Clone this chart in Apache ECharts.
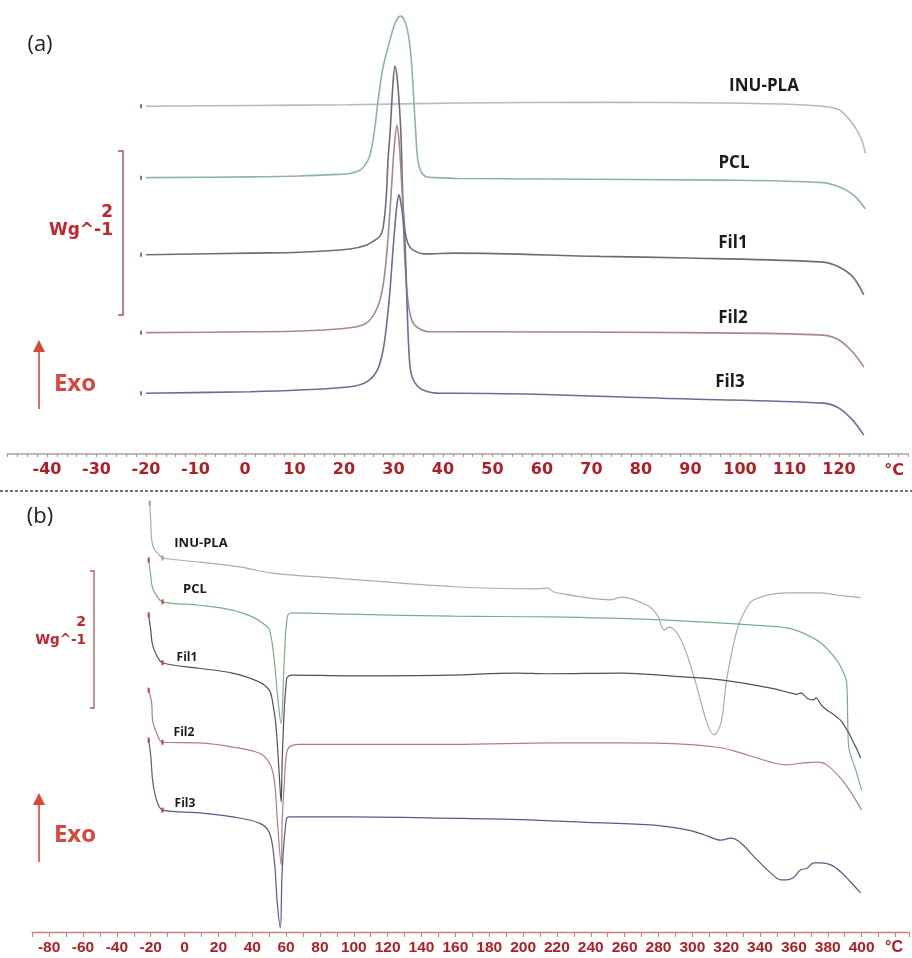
<!DOCTYPE html>
<html><head><meta charset="utf-8">
<script src="https://cdn.jsdelivr.net/npm/echarts@6/dist/echarts.min.js"></script>
<style>html,body{margin:0;padding:0;background:#fff}#c{width:912px;height:958px}</style>
</head><body><div id="c"></div>
<script>
// ---- tick labels ----
const tickLabelsA = [-40,-30,-20,-10,0,10,20,30,40,50,60,70,80,90,100,110,120];
const tickLabelsB = [-80,-60,-40,-20,0,20,40,60,80,100,120,140,160,180,200,220,240,260,280,300,320,340,360,380,400];
const seriesNames = ['INU-PLA','PCL','Fil1','Fil2','Fil3'];

// ---- panel (a): [T (°C), heat flow (W/g, offset)] ----
const a_INU = [[-20,4.24],[1,4.25],[21,4.26],[43,4.28],[72,4.29],[97,4.28],[112,4.26],[116.8,4.24],[120,4.20],[122.2,4.07],[123.6,3.95],[124.6,3.83],[125.3,3.67]];
const a_PCL = [[-20,3.37],[1,3.38],[11,3.39],[19,3.41],[21.2,3.42],[23.2,3.46],[24.2,3.52],[25.1,3.62],[25.7,3.77],[26.3,4.01],[26.9,4.32],[27.9,4.72],[29.3,5.05],[30.1,5.22],[30.9,5.32],[31.5,5.34],[32.1,5.30],[32.7,5.20],[33.3,4.99],[33.7,4.72],[34.1,4.32],[34.5,3.91],[34.9,3.59],[35.6,3.44],[36.6,3.38],[38.4,3.37],[43,3.36],[97,3.34],[116.8,3.31],[120,3.26],[122.2,3.19],[123.6,3.12],[125.3,2.99]];
const a_Fil1 = [[-20,2.43],[1,2.45],[11.1,2.46],[21.2,2.50],[24.6,2.55],[26.3,2.61],[27.3,2.66],[27.9,2.76],[28.5,3.10],[28.9,3.59],[29.3,3.91],[29.9,4.52],[30.3,4.73],[30.7,4.61],[31.1,4.32],[31.5,3.91],[31.9,3.10],[32.3,2.73],[32.9,2.57],[33.9,2.49],[36.4,2.44],[42.6,2.45],[71.7,2.41],[89.7,2.39],[116.8,2.34],[120,2.28],[122.8,2.16],[125,1.94]];
const a_Fil2 = [[-20,1.48],[1,1.49],[11.1,1.50],[21.2,1.54],[24.6,1.60],[26.7,1.78],[27.9,2.06],[28.7,2.49],[29.3,2.98],[29.7,3.34],[30.1,3.71],[30.7,4.01],[31.1,3.83],[31.5,3.46],[31.9,2.98],[32.3,2.37],[32.9,1.88],[33.7,1.63],[34.9,1.54],[37.4,1.49],[42.6,1.49],[89.7,1.48],[116.8,1.45],[120,1.39],[122.8,1.24],[125,1.06]];
const a_Fil3 = [[-20,0.74],[1,0.76],[11.1,0.78],[21.2,0.82],[24.6,0.88],[26.7,1.02],[27.9,1.27],[28.7,1.63],[29.3,2.00],[29.9,2.49],[30.3,2.79],[30.7,3.04],[31.1,3.16],[31.5,3.06],[31.9,2.88],[32.3,2.61],[32.7,1.88],[33.1,1.27],[33.5,1.00],[34.3,0.87],[36,0.78],[39.4,0.74],[42.6,0.74],[89.7,0.67],[116.8,0.62],[120,0.56],[122.8,0.41],[125,0.23]];

// ---- panel (b): [T (°C), heat flow (W/g, offset)] ----
const b_INU = [[-20.6,6.26],[-20,6.01],[-19.4,5.72],[-17.7,5.58],[-14.7,5.50],[-13,5.46],[8.8,5.40],[32.4,5.33],[51.8,5.24],[87.2,5.17],[159.6,5.04],[208.5,5.01],[214.4,5.02],[218.6,4.96],[252.1,4.85],[258,4.89],[273.3,4.77],[279.2,4.63],[283.4,4.41],[286.3,4.45],[293.4,4.26],[301,3.72],[308.7,3.05],[312.8,2.88],[316.9,3.05],[320.5,3.72],[326.4,4.41],[330.5,4.66],[336.4,4.85],[355.8,4.95],[375.9,4.95],[385.3,4.92],[399.4,4.88]];
const b_PCL = [[-21.2,5.43],[-20,5.21],[-18.9,5.02],[-16.5,4.91],[-13,4.82],[8.8,4.77],[28.3,4.70],[40.1,4.60],[46,4.51],[50.1,4.41],[53,3.97],[54.8,3.49],[57,3.04],[58.9,3.97],[60.7,4.60],[63,4.66],[97.2,4.64],[159.6,4.61],[215,4.60],[277.5,4.56],[336.4,4.48],[355.8,4.44],[365.8,4.36],[375.9,4.22],[385.3,3.97],[389.4,3.78],[391.2,3.64],[391.8,3.10],[392.4,2.70],[396.5,2.37],[400,2.07]];
const b_Fil1 = [[-21.2,4.63],[-20,4.41],[-18.9,4.19],[-16.5,4.04],[-13,3.93],[8.8,3.85],[28.3,3.78],[44.2,3.65],[50.1,3.53],[51.8,3.39],[53.6,3.10],[54.8,2.76],[56.6,2.03],[57.1,1.90],[57.7,2.51],[58.9,3.24],[60.1,3.64],[60.7,3.72],[63.6,3.75],[97.2,3.74],[156.1,3.75],[195.6,3.78],[215,3.77],[258,3.78],[296.9,3.72],[316.9,3.68],[346.4,3.56],[358,3.49],[362,3.47],[364.1,3.49],[368,3.41],[371.7,3.39],[373,3.42],[376,3.32],[379.4,3.24],[382,3.20],[385.3,3.14],[388,3.08],[390.6,2.98],[393,2.88],[395.3,2.76],[397,2.68],[399.4,2.54]];
const b_Fil2 = [[-21.2,3.53],[-19.4,3.34],[-18.9,3.09],[-16.5,2.91],[-13,2.77],[8.8,2.76],[28.3,2.70],[44.2,2.61],[50.1,2.47],[53,2.22],[54.8,1.64],[57.1,0.98],[57.7,1.64],[58.9,2.15],[60.1,2.58],[61.9,2.70],[67.7,2.74],[159.6,2.74],[218.6,2.76],[258,2.76],[296.9,2.74],[316.9,2.69],[326.4,2.63],[346.4,2.48],[355.8,2.44],[365.8,2.47],[373.5,2.48],[379.4,2.44],[389.4,2.19],[400,1.78]];
const b_Fil3 = [[-21.2,2.80],[-20,2.58],[-18.9,2.22],[-17.7,2.04],[-15.9,1.88],[-13,1.78],[8.8,1.74],[28.3,1.68],[44.2,1.59],[50.1,1.45],[53,1.05],[54.8,0.42],[56.6,0.06],[57.7,0.91],[60.1,1.64],[61.9,1.68],[67.7,1.68],[97.2,1.68],[159.6,1.66],[199.1,1.64],[238,1.60],[277.5,1.56],[296.9,1.49],[306.9,1.42],[316.9,1.34],[322.8,1.37],[328.7,1.30],[336.4,1.10],[346.4,0.86],[352.3,0.76],[355.8,0.76],[360,0.80],[362,0.86],[364.1,0.91],[367.7,0.93],[371.7,1.01],[375.9,1.01],[381.8,0.98],[387.6,0.88],[393.5,0.73],[399.4,0.57]];

const colorsA = ['#b9b9b9','#8fb59b','#6f6b7d','#a8878d','#6e6c94'];
const colorsB = ['#acacac','#7aae84','#50505a','#b17d85','#575a82'];
const MARK = '#bf3b3b';

function mkSeries(name, data, color, idx, width, marksB) {
  const s = {
    type:'line', name, data, xAxisIndex:idx, yAxisIndex:idx,
    showSymbol:false, symbol:'none', smooth:0.35,
    lineStyle:{color, width}, silent:true, animation:false
  };
  if (marksB) {
    const md = [{coord:data[0]}];
    const knee = data.find(p => p[0] === -13);
    if (knee) md.push({coord:knee});
    s.markPoint = {symbol:'rect', symbolSize:[2,5], itemStyle:{color: name==='INU-PLA' ? '#999' : MARK},
      label:{show:false}, silent:true, animation:false, data: md};
  } else {
    s.markPoint = {symbol:'rect', symbolSize:[2,4], symbolOffset:[-5,0], itemStyle:{color:'#b06060'},
      label:{show:false}, silent:true, animation:false, data:[{coord:data[0]}]};
  }
  return s;
}

const dataA = [a_INU, a_PCL, a_Fil1, a_Fil2, a_Fil3];
const dataB = [b_INU, b_PCL, b_Fil1, b_Fil2, b_Fil3];
const series = [];
dataA.forEach((d,i) => series.push(mkSeries(seriesNames[i], d, colorsA[i], 0, 1.6, false)));
dataB.forEach((d,i) => series.push(mkSeries(seriesNames[i], d, colorsB[i], 1, 1.2, true)));

const labRed = '#b01e24';
const txt = (text, x, y, font, fill, align) => ({
  type:'text', x, y, silent:true,
  style:{text, font, fill, textAlign: align || 'center', textVerticalAlign:'middle', verticalAlign:'middle'}
});

const labelPosA = [[764,86],[734,163],[733,243],[733,318],[730,382]];
const labelPosB = [[201,543],[195,589],[187,658],[184,733],[185,804]];

const graphic = [];
seriesNames.forEach((n,i) => graphic.push(txt(n, labelPosA[i][0], labelPosA[i][1], 'bold 17px "Open Sans"', '#1b1b1b')));
seriesNames.forEach((n,i) => graphic.push(txt(n, labelPosB[i][0], labelPosB[i][1], (i>=2?'bold 12px':'bold 13px') + ' "Open Sans"', '#1b1b1b')));
graphic.push(
  txt('(a)', 40, 45, '22px "Open Sans"', '#222'),
  txt('(b)', 40, 517, '22px "Open Sans"', '#222'),
  // scale bars
  {type:'polyline', silent:true, shape:{points:[[118,151],[123,151],[123,315],[118,315]]}, style:{stroke:'#a45a5a', lineWidth:1.5, fill:null}},
  {type:'polyline', silent:true, shape:{points:[[90,571],[94,571],[94,708],[90,708]]}, style:{stroke:'#a45a5a', lineWidth:1.3, fill:null}},
  txt('2', 113, 213, 'bold 17px "DejaVu Sans"', '#c4242b', 'right'),
  txt('Wg^-1', 113, 231, 'bold 17px "DejaVu Sans"', '#c4242b', 'right'),
  txt('2', 86, 622, 'bold 14px "DejaVu Sans"', '#c4242b', 'right'),
  txt('Wg^-1', 86, 640, 'bold 13.5px "DejaVu Sans"', '#c4242b', 'right'),
  // Exo arrows
  {type:'line', silent:true, shape:{x1:39,y1:409,x2:39,y2:350}, style:{stroke:'#d9473a', lineWidth:1.6}},
  {type:'polygon', silent:true, shape:{points:[[33,352],[45,352],[39,340]]}, style:{fill:'#d9473a'}},
  txt('Exo', 75, 384, 'bold 24px "Open Sans"', '#d9473a'),
  {type:'line', silent:true, shape:{x1:39,y1:862,x2:39,y2:803}, style:{stroke:'#d9473a', lineWidth:1.6}},
  {type:'polygon', silent:true, shape:{points:[[33,805],[45,805],[39,793]]}, style:{fill:'#d9473a'}},
  txt('Exo', 75, 835, 'bold 24px "Open Sans"', '#d9473a'),
  // unit labels
  txt('°C', 894, 471, 'bold 16px "DejaVu Sans"', labRed),
  txt('°C', 894, 948, 'bold 16px "Liberation Sans"', labRed),
  // separator
  {type:'line', silent:true, shape:{x1:0,y1:491,x2:912,y2:491}, style:{stroke:'#444', lineWidth:1.5, lineDash:[3,2]}}
);

const chart = echarts.init(document.getElementById('c'), null, {renderer:'canvas'});
chart.setOption({
  animation:false,
  backgroundColor:'#fff',
  grid:[
    {left:7.4, right:3.7, top:3, bottom:504},
    {left:32.2, right:0.5, top:500.45, bottom:26}
  ],
  xAxis:[
    {type:'value', gridIndex:0, min:-48, max:134, interval:2,
     axisLine:{lineStyle:{color:'#a9a2a2', width:1.5}},
     axisTick:{length:3, lineStyle:{color:'#c08a8a'}},
     splitLine:{show:false},
     axisLabel:{margin:8, color:labRed, fontWeight:'bold', fontSize:16, fontFamily:'DejaVu Sans',
       formatter:v => tickLabelsA.includes(Math.round(v)) && Math.abs(v-Math.round(v))<1e-6 ? String(Math.round(v)) : ''}},
    {type:'value', gridIndex:1, min:-90, max:428, interval:10,
     axisLine:{lineStyle:{color:'#c48282', width:1.3}},
     axisTick:{length:5, lineStyle:{color:'#c48282'}},
     splitLine:{show:false},
     axisLabel:{margin:8, color:labRed, fontWeight:'bold', fontSize:15.5, fontFamily:'Liberation Sans',
       formatter:v => tickLabelsB.includes(Math.round(v)) && Math.abs(v-Math.round(v))<1e-6 ? String(Math.round(v)) : ''}}
  ],
  yAxis:[
    {type:'value', gridIndex:0, min:0, max:5.5, show:false},
    {type:'value', gridIndex:1, min:0, max:6.3, show:false}
  ],
  series,
  graphic
});
</script></body></html>
